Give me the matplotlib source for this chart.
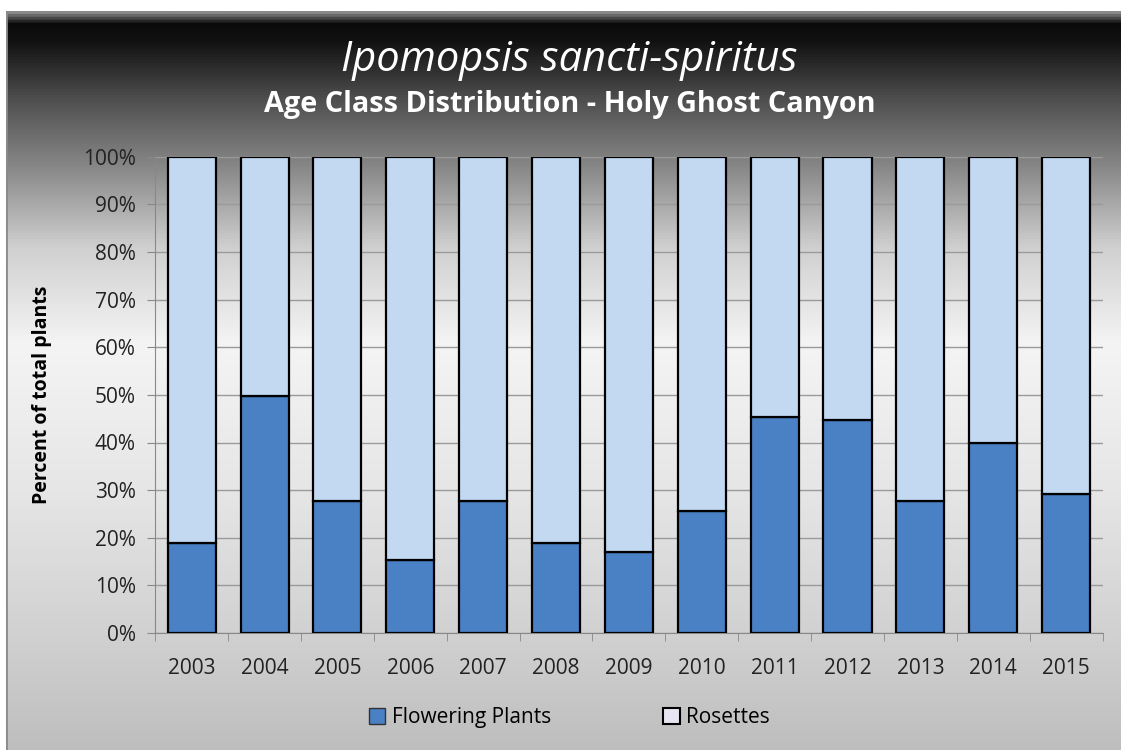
import numpy as np
import matplotlib
matplotlib.use("Agg")
import matplotlib.pyplot as plt
from matplotlib.colors import LinearSegmentedColormap
from matplotlib.patches import Patch

years = ["2003", "2004", "2005", "2006", "2007", "2008", "2009",
         "2010", "2011", "2012", "2013", "2014", "2015"]
flowering = [18.9, 49.7, 27.7, 15.3, 27.7, 18.9, 17.0,
             25.6, 45.3, 44.8, 27.7, 39.9, 29.1]
rosettes = [100 - f for f in flowering]
yticks = [0, 10, 20, 30, 40, 50, 60, 70, 80, 90, 100]

plt.rcParams['font.family'] = ['Open Sans', 'DejaVu Sans']

fig = plt.figure(figsize=(11.21, 7.5), dpi=100)
fig.patch.set_facecolor('white')

# chart area background: dark top fading to white, grey at the bottom
bg = fig.add_axes([0.005, 0.0, 0.995, 0.985])
stops = [(0.0, '#bebebe'), (0.12, '#cdcdcd'), (0.35, '#e6e6e6'),
         (0.55, '#f4f4f4'), (0.68, '#d0d0d0'), (0.78, '#8e8e8e'),
         (0.88, '#505050'), (0.96, '#121212'), (0.985, '#0a0a0a'),
         (1.0, '#8a8a8a')]
cmap = LinearSegmentedColormap.from_list('bg', stops)
grad = np.linspace(0, 1, 512).reshape(-1, 1)
bg.imshow(grad, aspect='auto', cmap=cmap, origin='lower', extent=[0, 1, 0, 1])
bg.set_axis_off()
bg.plot([0, 0], [0, 1], color='#8a8a8a', lw=2, transform=bg.transAxes)

ax = fig.add_axes([0.1385, 0.156, 0.845, 0.635])
ax.patch.set_alpha(0)
x = np.arange(len(years))
w = 0.66
ax.bar(x, flowering, w, color='#4a80c4', edgecolor='black', linewidth=1.6,
       label='Flowering Plants', zorder=3)
ax.bar(x, rosettes, w, bottom=flowering, color='#c3d9f1', edgecolor='black',
       linewidth=1.6, label='Rosettes', zorder=3)

ax.set_xlim(-0.5, len(years) - 0.5)
ax.set_ylim(0, 100)
ax.set_yticks(yticks)
ax.set_yticklabels([f"{t}%" for t in yticks], fontsize=15, color='#222222')
ax.set_xticks(x)
ax.set_xticklabels(years, fontsize=15, color='#222222')
ax.set_xticks(np.arange(len(years) + 1) - 0.5, minor=True)
ax.tick_params(axis='x', which='major', length=0, pad=18)
ax.tick_params(axis='x', which='minor', length=6, color='#888888')
ax.tick_params(axis='y', length=6, color='#888888', pad=8)
ax.yaxis.grid(True, color='#9a9a9a', linewidth=1, zorder=0)
for s in ['top', 'right']:
    ax.spines[s].set_visible(False)
ax.spines['left'].set_color('#888888')
ax.spines['bottom'].set_color('#888888')
ax.set_ylabel('Percent of total plants', fontsize=14, fontweight='bold',
              labelpad=22)

fig.text(0.508, 0.92, 'Ipomopsis sancti-spiritus', ha='center', va='center',
         fontsize=30, style='italic', color='white')
fig.text(0.508, 0.861, 'Age Class Distribution - Holy Ghost Canyon',
         ha='center', va='center', fontsize=20.8, fontweight='bold', color='white')

handles = [Patch(facecolor='#4a80c4', edgecolor='#333333', label='Flowering Plants'),
           Patch(facecolor='#e8e4f4', edgecolor='black', linewidth=1.5, label='Rosettes')]
fig.legend(handles=handles, loc='center', bbox_to_anchor=(0.508, 0.043), ncol=2,
           frameon=False, fontsize=15, handlelength=0.8, handleheight=0.8,
           handletextpad=0.3, columnspacing=5.4)

fig.savefig('out.png', dpi=100)
